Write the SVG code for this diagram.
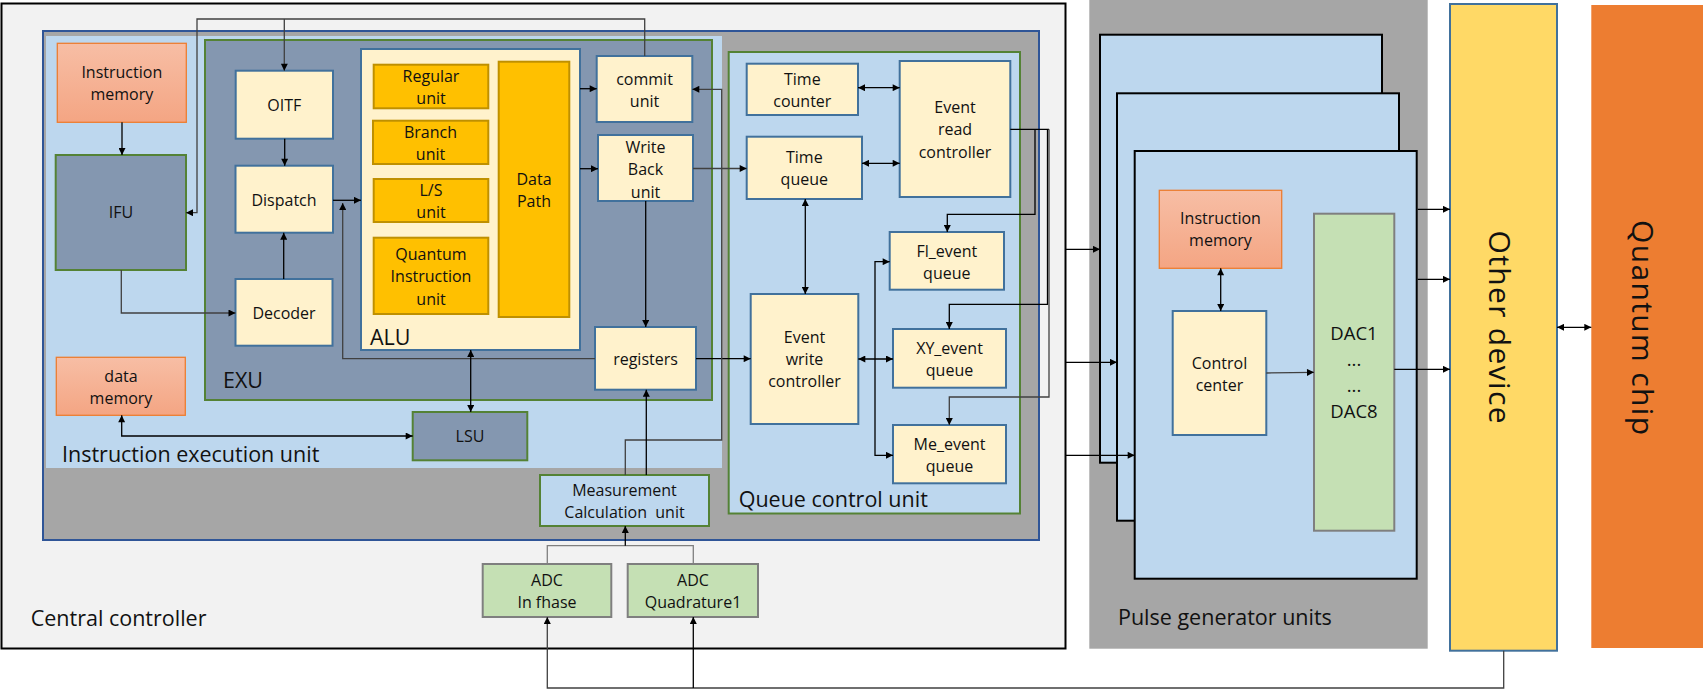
<svg xmlns="http://www.w3.org/2000/svg" width="1703" height="690" viewBox="0 0 1703 690">
<defs>
<linearGradient id="gOr" x1="0" y1="0" x2="0" y2="1"><stop offset="0" stop-color="#F7BEA5"/><stop offset="1" stop-color="#F4A583"/></linearGradient>
<marker id="ah" viewBox="0 0 10 10" refX="10" refY="5" markerWidth="8" markerHeight="7" markerUnits="userSpaceOnUse" orient="auto-start-reverse"><path d="M0,0 L10,5 L0,10 z" fill="#000"/></marker>
</defs>
<style>
text{font-family:"Open Sans","Noto Sans","DejaVu Sans",sans-serif;fill:#111;}
.t{font-size:16px;text-anchor:middle;}
.big{font-size:21.5px;}
.yel{fill:#FFF2CC;stroke:#41719C;stroke-width:2;}
.gold{fill:#FFC000;stroke:#BF9000;stroke-width:2;}
.slate{fill:#8497B0;stroke:#548235;stroke-width:2;}
.mem{fill:url(#gOr);stroke:#ED7D31;stroke-width:1.3;}
.adc{fill:#C5E0B4;stroke:#7F7F7F;stroke-width:2;}
.card{fill:#BDD7EE;stroke:#000;stroke-width:2;}
.c{fill:none;stroke:#000;stroke-width:1.3;}
.cg{fill:none;stroke:#404040;stroke-width:1.3;}
.e{marker-end:url(#ah);}
.b{marker-start:url(#ah);marker-end:url(#ah);}
</style>

<g id="central-controller">
<rect x="1.5" y="3.5" width="1064" height="645" fill="#F2F2F2" stroke="#000" stroke-width="2"/>
<text class="big" x="30.7" y="626">Central controller</text>
</g>
<g id="grey-frame">
<rect x="43" y="31" width="996" height="509" fill="#A6A6A6" stroke="#2F5597" stroke-width="2"/>
</g>
<g id="instruction-execution-unit">
<rect x="46" y="36" width="676" height="432" fill="#BDD7EE"/>
<text class="big" x="62" y="462">Instruction execution unit</text>
</g>
<g id="exu">
<rect class="slate" x="205" y="40" width="507" height="360"/>
<text class="big" x="223" y="388">EXU</text>
</g>
<g id="alu">
<rect class="yel" x="361" y="49" width="219" height="301"/>
<text class="big" x="370" y="345">ALU</text>
</g>
<g id="instruction-memory">
<rect class="mem" x="57.3" y="43.3" width="129" height="79"/>
<text class="t" x="121.8" y="78">Instruction</text><text class="t" x="121.8" y="100">memory</text>
</g>
<g id="ifu">
<rect class="slate" x="55.7" y="155" width="130.3" height="115"/>
<text class="t" x="121" y="218">IFU</text>
</g>
<g id="data-memory">
<rect class="mem" x="56.3" y="357.3" width="129" height="58"/>
<text class="t" x="121" y="381.5">data</text><text class="t" x="121" y="404">memory</text>
</g>
<g id="oitf">
<rect class="yel" x="235.7" y="70.7" width="97.3" height="68"/>
<text class="t" x="284.3" y="111">OITF</text>
</g>
<g id="dispatch">
<rect class="yel" x="235.5" y="165.7" width="97.5" height="67"/>
<text class="t" x="284" y="205.5">Dispatch</text>
</g>
<g id="decoder">
<rect class="yel" x="235.5" y="279" width="97" height="66.7"/>
<text class="t" x="284" y="319">Decoder</text>
</g>
<g id="regular-unit">
<rect class="gold" x="373.7" y="64.7" width="114.6" height="43.6"/>
<text class="t" x="431" y="82">Regular</text><text class="t" x="431" y="103.5">unit</text>
</g>
<g id="branch-unit">
<rect class="gold" x="373" y="120.7" width="115.3" height="43.3"/>
<text class="t" x="430.5" y="138">Branch</text><text class="t" x="430.5" y="160">unit</text>
</g>
<g id="ls-unit">
<rect class="gold" x="373.7" y="179" width="114.6" height="43"/>
<text class="t" x="431" y="196">L/S</text><text class="t" x="431" y="217.5">unit</text>
</g>
<g id="quantum-instruction-unit">
<rect class="gold" x="373.7" y="237.7" width="114.6" height="76.3"/>
<text class="t" x="431" y="260">Quantum</text><text class="t" x="431" y="282">Instruction</text><text class="t" x="431" y="304.5">unit</text>
</g>
<g id="data-path">
<rect class="gold" x="498.7" y="61.7" width="70.6" height="255.3"/>
<text class="t" x="534" y="185">Data</text><text class="t" x="534" y="206.5">Path</text>
</g>
<g id="commit-unit">
<rect class="yel" x="596.7" y="56" width="95.6" height="66"/>
<text class="t" x="644.5" y="85">commit</text><text class="t" x="644.5" y="106.5">unit</text>
</g>
<g id="write-back-unit">
<rect class="yel" x="598" y="135" width="95" height="66"/>
<text class="t" x="645.5" y="152.5">Write</text><text class="t" x="645.5" y="175">Back</text><text class="t" x="645.5" y="197.5">unit</text>
</g>
<g id="registers">
<rect class="yel" x="595" y="327" width="101" height="62.7"/>
<text class="t" x="645.5" y="364.5">registers</text>
</g>
<g id="lsu">
<rect class="slate" x="412.7" y="412" width="114.6" height="48.3"/>
<text class="t" x="470" y="442">LSU</text>
</g>
<g id="measurement-calculation-unit">
<rect x="540" y="475" width="169" height="51" fill="#BDD7EE" stroke="#548235" stroke-width="2"/>
<text class="t" x="624.5" y="495.5">Measurement</text><text class="t" x="624.5" y="517.5" xml:space="preserve">Calculation  unit</text>
</g>
<g id="queue-control-unit">
<rect x="728.7" y="52" width="291.3" height="461.5" fill="#BDD7EE" stroke="#548235" stroke-width="2"/>
<text class="big" x="738.7" y="506.7">Queue control unit</text>
</g>
<g id="time-counter">
<rect class="yel" x="746.7" y="63.7" width="111.3" height="51.3"/>
<text class="t" x="802.3" y="85">Time</text><text class="t" x="802.3" y="106.5">counter</text>
</g>
<g id="time-queue">
<rect class="yel" x="746.7" y="136.7" width="115.3" height="62.3"/>
<text class="t" x="804.3" y="162.5">Time</text><text class="t" x="804.3" y="185">queue</text>
</g>
<g id="event-read-controller">
<rect class="yel" x="899.7" y="61" width="110.6" height="136"/>
<text class="t" x="955" y="113">Event</text><text class="t" x="955" y="135">read</text><text class="t" x="955" y="157.5">controller</text>
</g>
<g id="fl-event-queue">
<rect class="yel" x="889.7" y="232" width="114.3" height="57.7"/>
<text class="t" x="946.8" y="257">Fl_event</text><text class="t" x="946.8" y="279">queue</text>
</g>
<g id="event-write-controller">
<rect class="yel" x="750.7" y="294" width="107.6" height="130"/>
<text class="t" x="804.5" y="343">Event</text><text class="t" x="804.5" y="365">write</text><text class="t" x="804.5" y="387">controller</text>
</g>
<g id="xy-event-queue">
<rect class="yel" x="893" y="329" width="113" height="58.7"/>
<text class="t" x="949.5" y="354">XY_event</text><text class="t" x="949.5" y="375.5">queue</text>
</g>
<g id="me-event-queue">
<rect class="yel" x="893" y="425" width="113" height="58.3"/>
<text class="t" x="949.5" y="450">Me_event</text><text class="t" x="949.5" y="471.5">queue</text>
</g>
<g id="adc-in-fhase">
<rect class="adc" x="482.7" y="564" width="128.6" height="53"/>
<text class="t" x="547" y="586">ADC</text><text class="t" x="547" y="607.5">In fhase</text>
</g>
<g id="adc-quadrature1">
<rect class="adc" x="627.7" y="564" width="130.3" height="53"/>
<text class="t" x="693" y="586">ADC</text><text class="t" x="693" y="607.5">Quadrature1</text>
</g>

<g id="pulse-generator-units">
<rect x="1089.3" y="0" width="338.4" height="648.7" fill="#A6A6A6"/>
<text class="big" x="1118" y="625">Pulse generator units</text>
</g>
<g id="pgu-card-1"><rect class="card" x="1100" y="34.7" width="282" height="428"/></g>
<g id="pgu-card-2"><rect class="card" x="1117" y="93.3" width="282" height="427.4"/></g>
<g id="pgu-card-3"><rect class="card" x="1134.7" y="151" width="282" height="427.7"/></g>
<g id="pgu-instruction-memory">
<rect class="mem" x="1159.3" y="190.3" width="122.4" height="78"/>
<text class="t" x="1220.5" y="224">Instruction</text><text class="t" x="1220.5" y="245.5">memory</text>
</g>
<g id="control-center">
<rect class="yel" x="1172.7" y="311" width="93.6" height="124"/>
<text class="t" x="1219.5" y="369">Control</text><text class="t" x="1219.5" y="391">center</text>
</g>
<g id="dac">
<rect class="adc" x="1314" y="213.7" width="80.3" height="317"/>
<text class="t" style="font-size:18.5px" x="1354" y="340">DAC1</text>
<text class="t" style="font-size:18.5px" x="1354" y="366">...</text>
<text class="t" style="font-size:18.5px" x="1354" y="392">...</text>
<text class="t" style="font-size:18.5px" x="1354" y="418">DAC8</text>
</g>
<g id="other-device">
<rect x="1450" y="4" width="107" height="646.7" fill="#FFD966" stroke="#41719C" stroke-width="2"/>
<text transform="translate(1500,327) rotate(90)" style="font-size:30px" text-anchor="middle" dominant-baseline="central" textLength="193" lengthAdjust="spacing">Other device</text>
</g>
<g id="quantum-chip">
<rect x="1591.3" y="5" width="111.7" height="643" fill="#ED7D31"/>
<text transform="translate(1643,327.5) rotate(90)" style="font-size:30px" text-anchor="middle" dominant-baseline="central" textLength="215" lengthAdjust="spacing">Quantum chip</text>
</g>

<g id="connectors">
<path class="c e" d="M122 122.3 V155"/>
<path class="cg e" d="M121.3 270 V313 H235.5"/>
<path class="c e" d="M283.7 279 V232.7"/>
<path class="c e" d="M284.7 138.7 V165.7"/>
<path class="cg e" d="M644.7 56 V19 H197 V212.7 H186"/>
<path class="cg e" d="M284.3 19 V70.7"/>
<path class="c e" d="M333 200.3 H361"/>
<path class="cg e" d="M595 358.7 H342.7 V203"/>
<path class="c b" d="M470.7 350 V412"/>
<path class="c b" d="M121.7 415.3 V436 H412.7"/>
<path class="c e" d="M580 88.7 H596.7"/>
<path class="c e" d="M580 168.7 H598"/>
<path class="c e" d="M645.7 201 V327"/>
<path class="cg e" d="M693 168.5 H746.7"/>
<path class="c e" d="M696 358.7 H750.7"/>
<path class="cg e" d="M625.3 475 V440 H721.7 V89.3 H692.3"/>
<path class="c e" d="M646.3 475 V389.7"/>
<path class="cg" d="M547.3 564 V545.7 H693.3 V564" style="stroke:#7F7F7F"/>
<path class="c e" d="M625.3 545.7 V526"/>
<path class="cg e" d="M1503.7 650.7 V688 H547.3 V617"/>
<path class="c e" d="M693.3 688 V617"/>
<path class="c b" d="M858 87.7 H899.7"/>
<path class="c b" d="M862 163.3 H899.7"/>
<path class="c b" d="M805.3 199 V294"/>
<path class="c b" d="M858.3 359 H893"/>
<path class="c b" d="M889.7 261.7 H875 V455.3 H893"/>
<path class="c" d="M1010.3 129.3 H1049"/>
<path class="c e" d="M1035 129.3 V214.3 H947.3 V232"/>
<path class="c e" d="M1047.5 129.3 V304.3 H949.3 V329"/>
<path class="cg e" d="M1049 129.3 V397 H949.3 V425"/>
<path class="c e" d="M1066 249.3 H1100"/>
<path class="c e" d="M1066 362.3 H1117"/>
<path class="c e" d="M1066 455.3 H1134.7"/>
<path class="c b" d="M1220.7 268.3 V311"/>
<path class="cg e" d="M1266.3 373 L1314 372.3"/>
<path class="c e" d="M1417.7 209.3 H1450"/>
<path class="c e" d="M1417.7 279.3 H1450"/>
<path class="c e" d="M1394.3 369.3 H1450"/>
<path class="c b" d="M1557 327.3 H1591.3"/>
</g>
</svg>
